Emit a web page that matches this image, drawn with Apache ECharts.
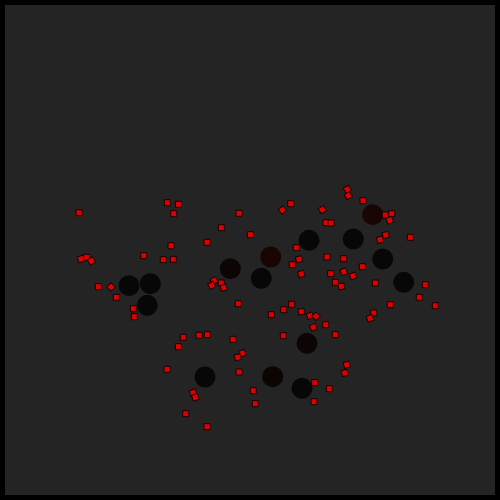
<!DOCTYPE html>
<html>
<head>
<meta charset="utf-8">
<script src="https://cdn.jsdelivr.net/npm/echarts@6/dist/echarts.min.js"></script>
<style>html,body{margin:0;padding:0;background:#000;}#c{width:500px;height:500px;}</style>
</head>
<body>
<div id="c"></div>
<script>
// Small red squares: x, y, rotation (deg)
const squareX = [79,167.3,178.3,173.7,239,221.3,207,171,143.7,163.3,173.3,81,86.7,91.3,98.3,111,116.3,133.3,134.3,214,211.7,221.3,223.7,238.3,
  290.7,282.3,322.3,347.3,348.3,363,385.3,391.7,389.7,326,331,250.3,385.7,380,410.3,296.3,299,292.3,327,343.7,362.3,301.3,330.7,343.7,353,335.3,341.3,375.3,425.3,419.3,435.3,390.3,373.7,370,
  291.7,283.7,271.3,301.3,310,316,313.3,325.7,335.3,283.3,233,183.3,199,207.3,178.3,242.3,237.7,346.7,344.7,167,239,314.7,329.3,253.3,193,195.3,255.3,314,185.7,207];
const squareY = [212.7,202.7,204.3,213.7,213.3,227.7,242.3,245.7,255.7,259.7,259.3,259,257.3,261,286.7,287,297.3,308.7,316.7,280.7,285.3,283,287.7,303.7,
  203.7,210,209.7,189.3,195.7,200.7,215,213.7,220.3,222.7,223,234.7,235,239.7,237.3,247.7,259.3,264.7,257,258.7,266.7,274,273.7,271.7,276,282.3,286.3,283,284.7,297.3,305.7,304.7,313,318.3,
  304.3,309.7,314.7,311.7,315.7,316.3,327.3,324.7,334.7,335.7,339.3,337.3,335.3,334.7,346.7,353.3,357.3,364.7,373,369.3,372,382.7,388.7,390.7,392.7,397.3,403.7,401.7,413.7,426.7];
const squareAngle = [0,0,0,0,0,0,0,0,0,0,0,20,0,30,0,45,0,0,0,30,30,0,15,0,
  0,40,30,30,30,0,0,0,20,0,0,0,10,20,0,0,15,0,0,0,0,20,0,20,20,0,10,0,0,0,0,0,0,20,
  0,0,0,10,20,45,20,0,0,0,0,0,0,0,0,15,15,15,15,0,0,0,0,0,20,20,0,0,0,0];

// Large dark circles: x, y, shade
const circleX = [129,150.3,147.3,230.3,372.7,309,353.3,270.7,382.7,261.3,403.7,307,205,272.7,302];
const circleY = [285.7,283.7,305.3,268.7,214.7,240.3,239,257,259,278.3,282.3,343.3,377,376.7,388.3];
const circleShade = ['black','black','black','dim','red','black','black','red','black','black','black','dim','black','dim','black'];

const shadeColors = {black:'#070707', dim:'#0d0404', red:'#1a0505'};

const chart = echarts.init(document.getElementById('c'), null, {renderer:'canvas'});
chart.setOption({
  backgroundColor:'#000',
  animation:false,
  grid:{left:5,right:5,top:5,bottom:5,show:true,backgroundColor:'#242424',borderWidth:0},
  xAxis:{type:'value',min:5,max:495,show:false},
  yAxis:{type:'value',min:5,max:495,inverse:true,show:false},
  series:[
    {
      type:'scatter',
      symbol:'circle',
      symbolSize:21,
      data:circleX.map((x,i)=>({value:[x,circleY[i]],itemStyle:{color:shadeColors[circleShade[i]]}})),
      itemStyle:{opacity:1}
    },
    {
      type:'scatter',
      symbol:'rect',
      symbolSize:6,
      data:squareX.map((x,i)=>({value:[x,squareY[i]],symbolRotate:squareAngle[i]})),
      itemStyle:{color:'#dd0000',borderColor:'#1a0000',borderWidth:1,opacity:1}
    }
  ]
});
</script>
</body>
</html>
